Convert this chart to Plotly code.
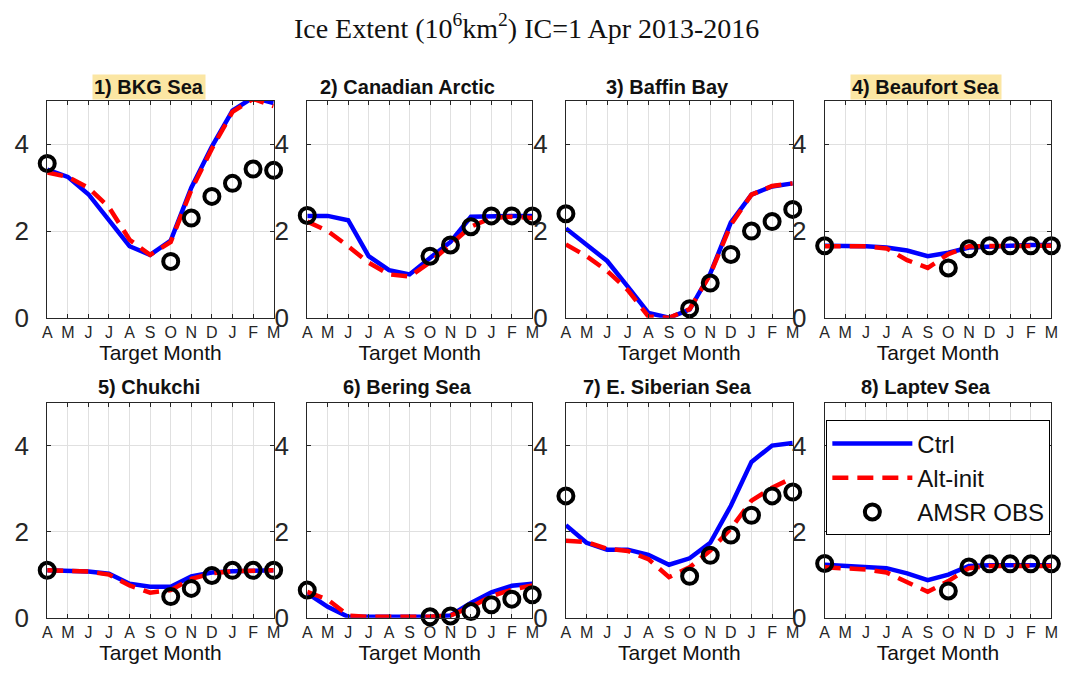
import plotly.graph_objects as go

# ---------------- data ----------------
months = ["A", "M", "J", "J", "A", "S", "O", "N", "D", "J", "F", "M"]
month_idx = list(range(12))

regions = ["1) BKG Sea", "2) Canadian Arctic", "3) Baffin Bay", "4) Beaufort Sea",
           "5) Chukchi", "6) Bering Sea", "7) E. Siberian Sea", "8) Laptev Sea"]
highlighted = ["1) BKG Sea", "4) Beaufort Sea"]

N = None
ctrl_1 = [3.42, 3.25, 2.85, 2.25, 1.65, 1.45, 1.78, 3.00, 3.95, 4.78, 5.08, 4.95]
alt_1 = [3.35, 3.25, 3.00, 2.55, 1.80, 1.45, 1.75, 2.95, 3.90, 4.75, 5.05, 4.88]
obs_1 = [3.56, N, N, N, N, N, 1.30, 2.30, 2.80, 3.10, 3.43, 3.40]

ctrl_2 = [2.35, 2.35, 2.25, 1.42, 1.10, 1.00, 1.38, 1.75, 2.33, 2.35, 2.35, 2.35]
alt_2 = [2.22, 2.00, 1.65, 1.27, 1.00, 0.95, 1.28, 1.68, 2.10, 2.30, 2.33, 2.30]
obs_2 = [2.36, N, N, N, N, N, 1.42, 1.68, 2.10, 2.35, 2.35, 2.35]

ctrl_3 = [2.06, 1.67, 1.31, 0.72, 0.11, 0.00, 0.19, 1.02, 2.20, 2.84, 3.03, 3.10]
alt_3 = [1.69, 1.42, 1.08, 0.64, 0.03, 0.00, 0.20, 1.00, 2.15, 2.84, 3.04, 3.10]
obs_3 = [2.40, N, N, N, N, N, 0.21, 0.80, 1.46, 2.00, 2.22, 2.50]

ctrl_4 = [1.66, 1.66, 1.65, 1.62, 1.55, 1.42, 1.50, 1.62, 1.65, 1.66, 1.68, 1.68]
alt_4 = [1.65, 1.65, 1.65, 1.60, 1.33, 1.15, 1.47, 1.65, 1.65, 1.65, 1.65, 1.66]
obs_4 = [1.66, N, N, N, N, N, 1.15, 1.59, 1.66, 1.66, 1.66, 1.66]

ctrl_5 = [1.10, 1.08, 1.07, 1.02, 0.79, 0.72, 0.72, 0.96, 1.05, 1.08, 1.10, 1.10]
alt_5 = [1.10, 1.08, 1.07, 1.00, 0.75, 0.58, 0.64, 0.90, 1.03, 1.08, 1.10, 1.10]
obs_5 = [1.10, N, N, N, N, N, 0.49, 0.68, 0.98, 1.10, 1.10, 1.10]

ctrl_6 = [0.57, 0.25, 0.02, 0.02, 0.02, 0.02, 0.02, 0.05, 0.34, 0.59, 0.74, 0.79]
alt_6 = [0.60, 0.42, 0.05, 0.02, 0.02, 0.02, 0.02, 0.05, 0.25, 0.50, 0.65, 0.75]
obs_6 = [0.64, N, N, N, N, N, 0.02, 0.04, 0.14, 0.30, 0.43, 0.53]

ctrl_7 = [2.15, 1.74, 1.58, 1.58, 1.46, 1.23, 1.38, 1.74, 2.60, 3.62, 4.00, 4.06]
alt_7 = [1.79, 1.76, 1.60, 1.55, 1.36, 0.94, 1.17, 1.56, 2.07, 2.72, 3.02, 3.25]
obs_7 = [2.83, N, N, N, N, N, 0.96, 1.45, 1.92, 2.38, 2.83, 2.92]

ctrl_8 = [1.23, 1.20, 1.18, 1.15, 1.03, 0.87, 1.00, 1.20, 1.22, 1.22, 1.22, 1.22]
alt_8 = [1.17, 1.15, 1.12, 1.05, 0.82, 0.60, 0.85, 1.15, 1.20, 1.20, 1.20, 1.20]
obs_8 = [1.26, N, N, N, N, N, 0.62, 1.18, 1.25, 1.25, 1.25, 1.25]

ctrl = [ctrl_1, ctrl_2, ctrl_3, ctrl_4, ctrl_5, ctrl_6, ctrl_7, ctrl_8]
alt = [alt_1, alt_2, alt_3, alt_4, alt_5, alt_6, alt_7, alt_8]
obs = [obs_1, obs_2, obs_3, obs_4, obs_5, obs_6, obs_7, obs_8]

y_ticks = [0, 2, 4]

# ---------------- layout ----------------
W, H = 1066, 674
COLS = [(42.7, 271.7), (305.7, 533.3), (567.3, 796.7), (829.0, 1058.3)]
ROWS = [(103.3, 325.0), (411.7, 631.7)]
TITLE_Y = [89, 396]

AX = "#262626"
GRID = "#e0e0e0"
SANS = "Liberation Sans, Arial, sans-serif"

fig = go.Figure()
layout = {}
annotations = []

for i in range(8):
    r, c = divmod(i, 4)
    sfx = "" if i == 0 else str(i + 1)
    xa, ya = "x" + sfx, "y" + sfx
    x0, x1 = COLS[c]
    y0, y1 = ROWS[r]

    fig.add_trace(go.Scatter(
        x=month_idx, y=ctrl[i], xaxis=xa, yaxis=ya, mode="lines",
        line=dict(color="#0000ff", width=4.5), name="Ctrl",
        showlegend=(i == 0), legendgroup="ctrl"))
    fig.add_trace(go.Scatter(
        x=month_idx, y=alt[i], xaxis=xa, yaxis=ya, mode="lines",
        line=dict(color="#ff0000", width=4.5, dash="16px,9px"), name="Alt-init",
        showlegend=(i == 0), legendgroup="alt"))
    fig.add_trace(go.Scatter(
        x=month_idx, y=obs[i], xaxis=xa, yaxis=ya, mode="markers",
        marker=dict(symbol="circle-open", size=15, color="black",
                    line=dict(width=4, color="black")),
        name="AMSR OBS", cliponaxis=False,
        showlegend=(i == 0), legendgroup="obs"))

    layout["xaxis" + sfx] = dict(
        domain=[x0 / W, x1 / W], anchor=ya, range=[0, 11],
        tickmode="array", tickvals=month_idx, ticktext=months,
        ticks="inside", ticklen=4, tickcolor=AX, tickwidth=1,
        showline=True, linecolor=AX, linewidth=1, mirror="ticks",
        showgrid=True, gridcolor=GRID, gridwidth=1, zeroline=False,
        tickfont=dict(family=SANS, size=16, color=AX),
        title=dict(text="Target Month", font=dict(family=SANS, size=21, color="#111111"),
                   standoff=4),
        fixedrange=True)
    layout["yaxis" + sfx] = dict(
        domain=[1 - y1 / H, 1 - y0 / H], anchor=xa, range=[0, 5],
        tickmode="array", tickvals=y_ticks,
        ticks="inside", ticklen=4, tickcolor=AX, tickwidth=1,
        showline=True, linecolor=AX, linewidth=1, mirror="ticks",
        showgrid=True, gridcolor=GRID, gridwidth=1, zeroline=False,
        tickfont=dict(family=SANS, size=26, color=AX),
        ticklabelstandoff=12,
        fixedrange=True)

    name = regions[i]
    annotations.append(dict(
        text="<b>" + name + "</b>", xref="paper", yref="paper",
        x=((x0 + x1) / 2 - 12) / W, y=1 - TITLE_Y[r] / H,
        xanchor="center", yanchor="middle", showarrow=False,
        font=dict(family=SANS, size=20, color="#111111"),
        bgcolor="#fbe6a3" if name in highlighted else "rgba(0,0,0,0)",
        borderpad=1))

fig.update_layout(
    width=W, height=H,
    margin=dict(l=0, r=0, t=0, b=0),
    paper_bgcolor="white", plot_bgcolor="white",
    title=dict(text="Ice Extent (10<sup>6</sup>km<sup>2</sup>) IC=1 Apr 2013-2016",
               x=0.494, xanchor="center", y=1 - 28 / H, yanchor="middle",
               font=dict(family="Liberation Serif, Times New Roman, serif", size=28,
                         color="#111111")),
    legend=dict(x=830.7 / W, y=1 - 430 / H, xanchor="left", yanchor="top",
                bgcolor="white", bordercolor="black", borderwidth=1,
                font=dict(family=SANS, size=24, color="#111111"),
                itemwidth=80, tracegroupgap=0),
    annotations=annotations,
    showlegend=True,
    **layout)

fig.write_html("out.html", config={"displayModeBar": False},
               post_script="document.body.style.margin='0';document.body.style.overflow='hidden';")
